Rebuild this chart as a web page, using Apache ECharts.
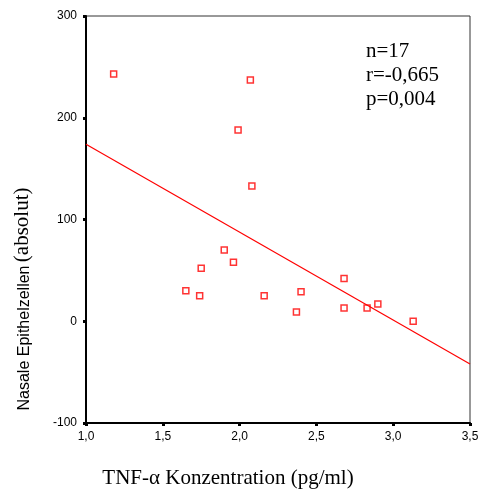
<!DOCTYPE html>
<html>
<head>
<meta charset="utf-8">
<script src="https://cdn.jsdelivr.net/npm/echarts@6/dist/echarts.min.js"></script>
<style>html,body{margin:0;padding:0;background:#fff}#c{width:486px;height:498px}</style>
</head>
<body>
<div id="c"></div>
<script>
// Data
var tnfAlpha = [1.18, 2.07, 1.99, 2.08, 1.90, 1.96, 1.75, 1.65, 1.74, 2.16, 2.40, 2.37, 2.68, 2.68, 2.83, 2.90, 3.13];
var epithelCells = [243, 237, 188, 133, 70, 58, 52, 30, 25, 25, 29, 9, 42, 13, 13, 17, 0];
var fitX = [1.0, 3.5];
var fitY = [174, -42];
var xTicks = [1.0, 1.5, 2.0, 2.5, 3.0, 3.5];
var yTicks = [-100, 0, 100, 200, 300];
var statsLines = ['n=17', 'r=-0,665', 'p=0,004'];
var xTitle = 'TNF-\u03b1 Konzentration (pg/ml)';
var yTitleA = 'Nasale Epithelzellen';
var yTitleB = '(absolut)';

var chart = echarts.init(document.getElementById('c'), null, {renderer: 'canvas'});
var pts = tnfAlpha.map(function (x, i) { return [x, epithelCells[i]]; });
var line = fitX.map(function (x, i) { return [x, fitY[i]]; });

var axisCommon = {
  axisLine: {show: true, onZero: false, lineStyle: {color: '#000', width: 2}},
  axisTick: {show: true, length: 3, lineStyle: {color: '#000', width: 3}},
  splitLine: {show: false},
  axisLabel: {color: '#000', fontFamily: 'Liberation Sans, Arial', fontSize: 12}
};

chart.setOption({
  animation: false,
  backgroundColor: '#fff',
  grid: {left: 86, right: 16, top: 16, bottom: 75, show: true, borderColor: '#333', borderWidth: 1, backgroundColor: 'transparent'},
  xAxis: Object.assign({}, axisCommon, {
    type: 'value', min: xTicks[0], max: xTicks[xTicks.length - 1], interval: 0.5,
    axisLabel: Object.assign({}, axisCommon.axisLabel, {margin: 8, formatter: function (v) { return v.toFixed(1).replace('.', ','); }})
  }),
  yAxis: Object.assign({}, axisCommon, {
    type: 'value', min: yTicks[0], max: yTicks[yTicks.length - 1], interval: 100,
    axisLabel: Object.assign({}, axisCommon.axisLabel, {margin: 9})
  }),
  series: [
    {
      type: 'line', data: line, symbol: 'none', silent: true,
      lineStyle: {color: '#ff0000', width: 1.2}
    },
    {
      type: 'scatter', data: pts, symbol: 'rect', symbolSize: 6,
      itemStyle: {color: '#fff', borderColor: '#ff0000', borderWidth: 1.5}
    }
  ],
  graphic: [
    {type: 'text', left: 366, top: 39, style: {text: statsLines.join('\n'), font: '21px "Liberation Serif", "Times New Roman", serif', fill: '#000', lineHeight: 24}},
    {type: 'text', x: 228, y: 478, style: {text: xTitle, font: '21px "Liberation Serif", "Times New Roman", serif', fill: '#000', align: 'center', verticalAlign: 'middle'}},
    {type: 'text', x: 22, y: 299, rotation: Math.PI / 2, style: {
      text: '{a|' + yTitleA + '} {b|' + yTitleB + '}',
      align: 'center', verticalAlign: 'middle', fill: '#000',
      rich: {
        a: {fontFamily: '"Liberation Sans", Arial, sans-serif', fontSize: 16, fill: '#000', verticalAlign: 'bottom'},
        b: {fontFamily: '"Liberation Serif", "Times New Roman", serif', fontSize: 21, fill: '#000', verticalAlign: 'bottom'}
      }
    }}
  ]
});
</script>
</body>
</html>
